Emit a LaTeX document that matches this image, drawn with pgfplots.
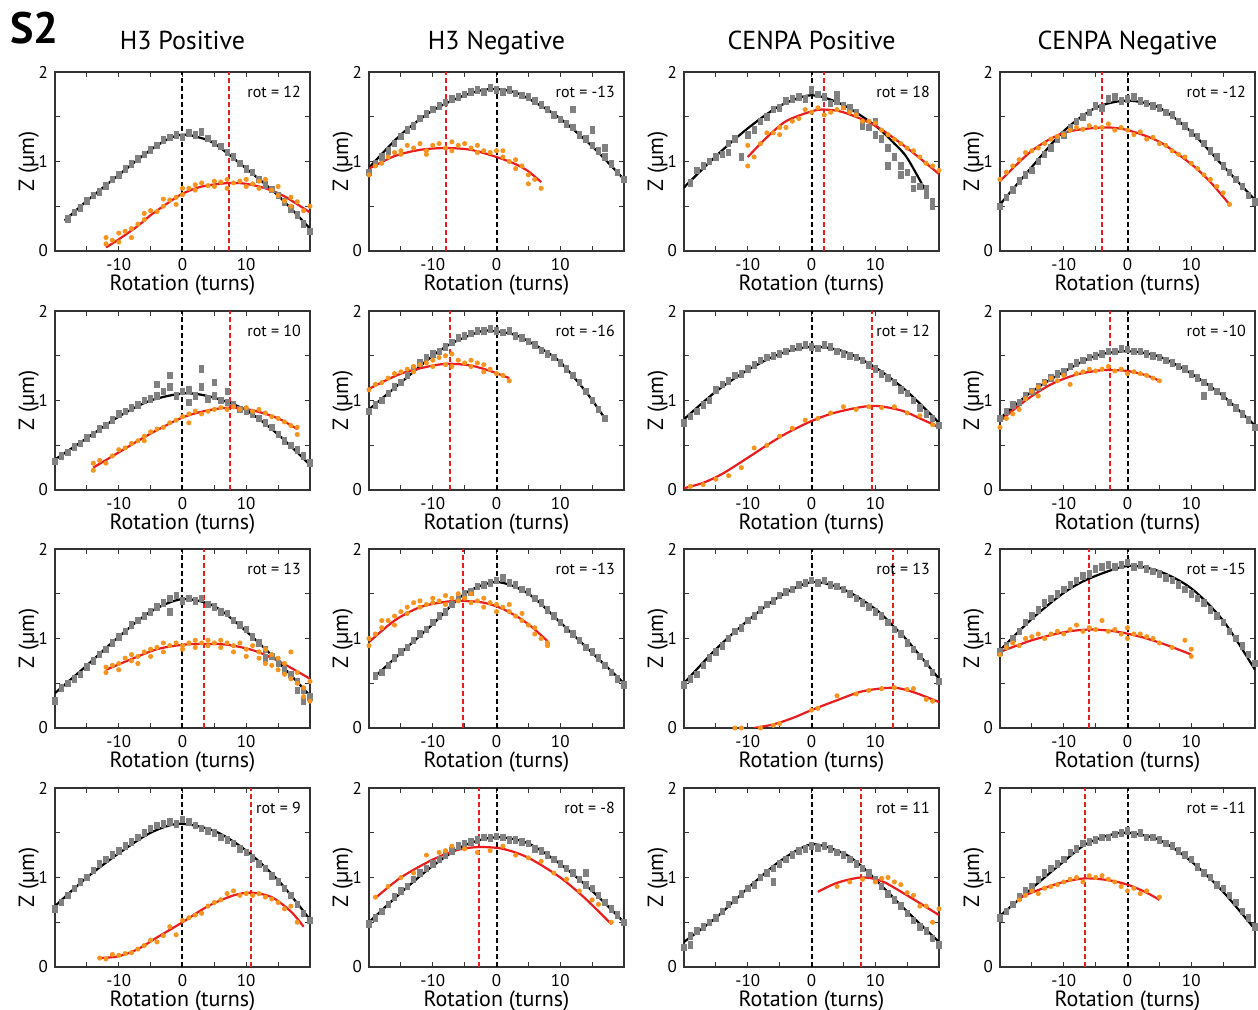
\documentclass[border=0pt]{standalone}
\usepackage{fontspec}
\setmainfont{PT Sans}
\usepackage{pgfplots}
\pgfplotsset{compat=1.18}
\definecolor{ptgray}{RGB}{128,128,128}
\definecolor{ptorange}{RGB}{247,148,29}
\definecolor{ptred}{RGB}{235,28,30}
\pgfplotsset{panel/.style={
  width=127.5pt, height=89.5pt, scale only axis,
  xmin=-20, xmax=20, ymin=0, ymax=2,
  xtick={-10,0,10}, minor xtick={-15,-5,5,15},
  ytick={0,1,2}, minor ytick={0.5,1.5},
  tick align=inside, major tick length=2.5pt, minor tick length=2.5pt,
  axis line style={line width=0.6pt, black!80},
  every tick/.style={black!80, line width=0.5pt},
  ticklabel style={font=\fontsize{8.5}{10}\selectfont},
  /pgf/number format/assume math mode=true,
  xlabel={Rotation (turns)}, ylabel={Z (µm)},
  label style={font=\fontsize{11}{13}\selectfont},
  xlabel style={yshift=4.5pt}, ylabel style={yshift=-7pt},
  title style={font=\fontsize{13}{15}\selectfont, text height=1.6ex, text depth=0.3ex, yshift=0pt},
}}
\newcommand{\panel}[9]{%
\begin{axis}[panel, at={(#1,#2)}, anchor=south west, #9]
\addplot[only marks, color=ptgray, mark=square*, mark size=1.1pt, mark options={yscale=1.5, ptgray}] coordinates {#5};
\addplot[only marks, color=ptorange, mark=*, mark size=1.05pt, mark options={ptorange}] coordinates {#7};
\addplot[black, no marks, line width=1pt, dash pattern=on 2.5pt off 1.5pt] coordinates {(0,0)(0,2)};
\addplot[ptred, no marks, line width=1pt, dash pattern=on 2.5pt off 1.5pt] coordinates {(#4,0)(#4,2)};
\addplot[black, line width=1.1pt, smooth, no marks] coordinates {#6};
\addplot[ptred, line width=1.1pt, smooth, no marks] coordinates {#8};
\node[anchor=east, font=\fontsize{8}{9}\selectfont, inner sep=0.5pt] at (rel axis cs:0.97,0.89) {rot = #3};
\end{axis}}
\begin{document}
\begin{tikzpicture}
\useasboundingbox (0,0) rectangle (629pt,505pt);
\node[anchor=north west, inner sep=0pt, font=\bfseries\fontsize{22}{24}\selectfont] at (5pt,499pt) {S2};
% Row 1
\panel{27.5pt}{379.5pt}{12}{7.3}
{(-18,0.36)(-17,0.43)(-16,0.48)(-15,0.56)(-14,0.62)(-13,0.66)(-12,0.73)(-11,0.8)(-10,0.85)(-9,0.92)(-8,0.97)(-7,1.03)(-6,1.08)(-5,1.13)(-4,1.18)(-3,1.24)(-2,1.27)(-1,1.3)(0,1.27)(1,1.32)(2,1.3)(3,1.33)(4,1.26)(5,1.2)(6,1.17)(7,1.1)(8,1.05)(9,0.98)(10,0.92)(11,0.88)(12,0.8)(13,0.74)(14,0.69)(15,0.62)(16,0.55)(17,0.47)(18,0.4)(19,0.3)(20,0.22)}
{(-18.5,0.34)(-15,0.56)(-10,0.85)(-5,1.13)(-2,1.26)(0,1.30)(2,1.28)(5,1.2)(10,0.92)(15,0.62)(20,0.25)}
{(-12,0.08)(-12,0.15)(-11,0.12)(-10,0.2)(-10,0.1)(-9,0.22)(-8,0.25)(-8,0.15)(-7,0.3)(-6,0.35)(-6,0.42)(-5,0.45)(-4,0.44)(-3,0.5)(-3,0.58)(-2,0.57)(-1,0.6)(-1,0.52)(0,0.7)(0,0.63)(1,0.7)(2,0.74)(2,0.68)(3,0.76)(4,0.73)(5,0.78)(5,0.72)(6,0.77)(7,0.8)(7,0.7)(8,0.76)(9,0.78)(10,0.72)(10,0.8)(11,0.75)(12,0.7)(12,0.78)(13,0.8)(14,0.68)(15,0.62)(15,0.72)(16,0.56)(17,0.6)(17,0.5)(18,0.55)(19,0.45)(20,0.5)}
{(-12,0.04)(-10,0.13)(-7,0.28)(-5,0.4)(-2,0.55)(0,0.64)(3,0.72)(7.3,0.76)(10,0.75)(13,0.7)(16,0.61)(20,0.43)}
{title={H3 Positive}}
\panel{184.5pt}{379.5pt}{-13}{-8}
{(-20,0.88)(-19,0.98)(-18,1.05)(-17,1.12)(-16,1.2)(-15,1.28)(-14,1.35)(-13,1.4)(-12,1.48)(-11,1.53)(-10,1.58)(-9,1.62)(-8,1.66)(-7,1.7)(-6,1.72)(-5,1.75)(-4,1.78)(-3,1.8)(-2,1.78)(-1,1.82)(0,1.8)(1,1.78)(2,1.8)(3,1.76)(4,1.74)(5,1.72)(6,1.68)(7,1.63)(8,1.58)(9,1.52)(10,1.47)(11,1.42)(12,1.38)(13,1.3)(14,1.25)(15,1.18)(16,1.12)(17,1.05)(18,0.97)(19,0.88)(20,0.8)(12,1.58)(15,1.35)(17,1.15)}
{(-20,0.93)(-15,1.3)(-10,1.57)(-5,1.74)(-1,1.81)(3,1.77)(7,1.62)(10,1.48)(15,1.17)(20,0.8)}
{(-20,0.85)(-19,0.95)(-18,0.98)(-17,1.05)(-16,1.1)(-15,1.12)(-14,1.18)(-13,1.15)(-12,1.2)(-11,1.12)(-10,1.18)(-9,1.2)(-8,1.15)(-7,1.22)(-6,1.18)(-5,1.2)(-4,1.15)(-3,1.18)(-2,1.12)(-1,1.1)(0,1.12)(1,1.05)(2,1.0)(3,1.02)(4,0.95)(5,0.85)(6,0.8)(7,0.7)(-15,1.08)(-11,1.08)(-7,1.12)(-3,1.1)(1,1.12)(3,0.92)(5,0.75)}
{(-20,0.92)(-16,1.06)(-12,1.13)(-8,1.15)(-4,1.13)(0,1.05)(3,0.97)(5,0.89)(7,0.77)}
{title={H3 Negative}}
\panel{342pt}{379.5pt}{18}{2}
{(-19,0.76)(-18,0.9)(-17,0.95)(-16,1.0)(-15,1.05)(-14,1.08)(-13,1.2)(-12,1.25)(-11,1.05)(-10,1.3)(-9,1.35)(-8,1.45)(-7,1.5)(-6,1.58)(-5,1.6)(-4,1.68)(-3,1.7)(-2,1.72)(-1,1.7)(0,1.8)(1,1.75)(2,1.72)(3,1.65)(4,1.68)(5,1.62)(6,1.6)(7,1.55)(8,1.4)(9,1.38)(10,1.3)(11,1.25)(12,1.15)(13,1.05)(14,0.95)(15,0.88)(16,0.8)(17,0.72)(18,0.62)(19,0.55)(-13,1.1)(4,1.75)(10,1.45)(12,0.95)(14,0.85)(16,0.7)(18,0.7)(19,0.5)}
{(-20,0.71)(-15,1.06)(-10,1.37)(-5,1.62)(0,1.74)(5,1.63)(10,1.4)(13,1.2)(15,1.04)(18,0.66)}
{(-10,0.95)(-10,1.18)(-9,1.05)(-8,1.2)(-7,1.32)(-6,1.32)(-5,1.38)(-5,1.3)(-4,1.38)(-3,1.45)(-2,1.48)(-1,1.58)(0,1.55)(1,1.6)(2,1.52)(3,1.55)(4,1.58)(5,1.6)(6,1.55)(7,1.52)(8,1.45)(9,1.45)(10,1.43)(11,1.35)(12,1.3)(13,1.25)(14,1.2)(15,1.15)(16,1.12)(17,1.05)(18,0.98)(19,0.95)(20,0.9)}
{(-10,1.05)(-7,1.27)(-4,1.45)(0,1.56)(2,1.58)(5,1.55)(10,1.4)(15,1.15)(20,0.86)}
{title={CENPA Positive}}
\panel{500pt}{379.5pt}{-12}{-4}
{(-20,0.5)(-19,0.6)(-18,0.68)(-17,0.78)(-16,0.85)(-15,0.9)(-14,1.0)(-13,1.08)(-12,1.15)(-11,1.25)(-10,1.3)(-9,1.38)(-8,1.45)(-7,1.5)(-6,1.55)(-5,1.62)(-4,1.6)(-3,1.7)(-2,1.72)(-1,1.68)(0,1.7)(1,1.72)(2,1.68)(3,1.65)(4,1.62)(5,1.6)(6,1.55)(7,1.52)(8,1.45)(9,1.4)(10,1.32)(11,1.28)(12,1.2)(13,1.12)(14,1.05)(15,0.95)(16,0.88)(17,0.8)(18,0.72)(19,0.62)(20,0.55)}
{(-20,0.52)(-15,0.94)(-10,1.34)(-5,1.6)(0,1.68)(5,1.6)(10,1.33)(15,0.95)(20,0.57)}
{(-20,0.8)(-19,0.88)(-18,0.95)(-17,1.02)(-16,1.1)(-15,1.12)(-14,1.15)(-13,1.2)(-12,1.25)(-11,1.28)(-10,1.3)(-9,1.35)(-8,1.38)(-7,1.36)(-6,1.4)(-5,1.38)(-4,1.38)(-3,1.42)(-2,1.35)(-1,1.38)(0,1.35)(1,1.3)(2,1.33)(3,1.25)(4,1.27)(5,1.2)(6,1.18)(7,1.12)(8,1.08)(9,1.05)(10,0.98)(11,0.92)(12,0.85)(13,0.8)(14,0.72)(15,0.65)(16,0.52)}
{(-20,0.78)(-15,1.12)(-10,1.32)(-4,1.38)(0,1.35)(5,1.22)(10,0.97)(13,0.77)(16,0.52)}
{title={CENPA Negative}}
% Row 2
\panel{27.5pt}{260pt}{10}{7.5}
{(-20,0.32)(-19,0.38)(-18,0.42)(-17,0.48)(-16,0.52)(-15,0.58)(-14,0.62)(-13,0.68)(-12,0.72)(-11,0.78)(-10,0.85)(-9,0.88)(-8,0.92)(-7,0.95)(-6,1.0)(-5,1.02)(-4,1.05)(-3,1.1)(-2,1.15)(-1,1.05)(0,1.1)(1,1.12)(2,1.05)(3,1.15)(4,1.02)(5,1.05)(6,1.0)(7,0.98)(8,0.95)(9,0.9)(10,0.88)(11,0.85)(12,0.8)(13,0.75)(14,0.7)(15,0.62)(16,0.55)(17,0.5)(18,0.45)(19,0.38)(20,0.3)(-2,1.28)(3,1.35)(-4,1.18)(1,0.98)(5,1.2)(7,1.1)}
{(-20,0.34)(-15,0.58)(-10,0.82)(-5,1.0)(0.5,1.08)(5,1.03)(10,0.89)(15,0.62)(20,0.28)}
{(-14,0.3)(-14,0.22)(-13,0.33)(-12,0.3)(-11,0.38)(-10,0.45)(-9,0.47)(-8,0.52)(-7,0.55)(-6,0.55)(-6,0.6)(-5,0.65)(-4,0.68)(-3,0.7)(-2,0.75)(-1,0.78)(0,0.82)(1,0.85)(1,0.75)(2,0.88)(3,0.85)(4,0.88)(5,0.9)(6,0.92)(7,0.9)(8,0.93)(9,0.9)(10,0.92)(11,0.88)(12,0.9)(13,0.86)(14,0.82)(15,0.8)(16,0.76)(17,0.72)(18,0.7)(18,0.62)}
{(-14,0.25)(-10,0.42)(-5,0.63)(0,0.81)(4,0.89)(7.5,0.92)(11,0.89)(15,0.8)(18,0.68)}
{}
\panel{184.5pt}{260pt}{-16}{-7.3}
{(-20,0.88)(-19,0.95)(-18,1.0)(-17,1.08)(-16,1.15)(-15,1.2)(-14,1.28)(-13,1.35)(-12,1.42)(-11,1.48)(-10,1.52)(-9,1.55)(-8,1.6)(-7,1.65)(-6,1.7)(-5,1.72)(-4,1.75)(-3,1.78)(-2,1.78)(-1,1.8)(0,1.78)(1,1.76)(2,1.78)(3,1.72)(4,1.7)(5,1.66)(6,1.62)(7,1.56)(8,1.52)(9,1.48)(10,1.42)(11,1.35)(12,1.28)(13,1.2)(14,1.1)(15,1.0)(16,0.9)(17,0.8)}
{(-20,0.9)(-15,1.2)(-10,1.5)(-7,1.64)(-3,1.76)(-1,1.78)(3,1.73)(7,1.58)(10,1.43)(14,1.1)(17,0.8)}
{(-20,1.12)(-19,1.18)(-18,1.2)(-17,1.25)(-16,1.3)(-15,1.32)(-14,1.35)(-13,1.38)(-12,1.4)(-11,1.42)(-10,1.45)(-9,1.48)(-8,1.5)(-7,1.52)(-6,1.45)(-5,1.42)(-4,1.45)(-3,1.42)(-2,1.4)(-1,1.35)(0,1.3)(1,1.28)(2,1.22)(-13,1.32)(-10,1.38)(-8,1.4)(-7,1.38)(-4,1.38)(-2,1.32)}
{(-20,1.13)(-15,1.3)(-10,1.39)(-7.3,1.41)(-4,1.39)(-1,1.33)(2,1.25)}
{}
\panel{342pt}{260pt}{12}{9.5}
{(-20,0.75)(-19,0.82)(-18,0.88)(-17,0.95)(-16,1.0)(-15,1.12)(-14,1.18)(-13,1.22)(-12,1.28)(-11,1.3)(-10,1.35)(-9,1.4)(-8,1.45)(-7,1.48)(-6,1.5)(-5,1.52)(-4,1.55)(-3,1.58)(-2,1.6)(-1,1.62)(0,1.6)(1,1.58)(2,1.62)(3,1.6)(4,1.55)(5,1.52)(6,1.5)(7,1.48)(8,1.45)(9,1.4)(10,1.35)(11,1.3)(12,1.25)(13,1.2)(14,1.12)(15,1.08)(16,1.0)(17,0.92)(18,0.85)(19,0.8)(20,0.72)}
{(-20,0.79)(-15,1.1)(-10,1.34)(-5,1.52)(0,1.6)(5,1.55)(10,1.37)(15,1.1)(20,0.75)}
{(-19,0.04)(-17,0.06)(-15,0.12)(-13,0.16)(-11,0.25)(-9,0.47)(-7,0.5)(-5,0.6)(-3,0.69)(-1,0.78)(1,0.8)(3,0.86)(5,0.93)(7,0.9)(9,0.93)(11,0.92)(13,0.93)(15,0.86)(17,0.83)(19,0.73)}
{(-20,0.02)(-17,0.08)(-14,0.18)(-10,0.36)(-7,0.5)(-4,0.63)(0,0.77)(4,0.87)(9.5,0.94)(14,0.89)(17,0.8)(20,0.7)}
{}
\panel{500pt}{260pt}{-10}{-2.8}
{(-20,0.8)(-19,0.88)(-18,0.95)(-17,0.98)(-16,1.05)(-15,1.1)(-14,1.15)(-13,1.2)(-12,1.25)(-11,1.3)(-10,1.32)(-9,1.38)(-8,1.42)(-7,1.45)(-6,1.48)(-5,1.5)(-4,1.52)(-3,1.55)(-2,1.55)(-1,1.58)(0,1.57)(1,1.55)(2,1.55)(3,1.52)(4,1.5)(5,1.48)(6,1.45)(7,1.42)(8,1.38)(9,1.35)(10,1.3)(11,1.25)(12,1.2)(13,1.15)(14,1.1)(15,1.05)(16,0.98)(17,0.92)(18,0.85)(19,0.78)(20,0.7)(12,1.05)}
{(-20,0.8)(-15,1.1)(-10,1.32)(-5,1.5)(0,1.55)(5,1.49)(10,1.3)(15,1.05)(20,0.72)}
{(-20,0.7)(-19,0.8)(-18,0.85)(-17,0.9)(-16,1.02)(-15,1.1)(-14,1.05)(-14,1.15)(-13,1.2)(-12,1.25)(-11,1.22)(-10,1.28)(-9,1.18)(-8,1.3)(-7,1.32)(-6,1.35)(-5,1.33)(-4,1.35)(-3,1.38)(-2,1.33)(-1,1.35)(0,1.3)(1,1.32)(2,1.3)(3,1.28)(4,1.25)(5,1.22)}
{(-20,0.77)(-16,1.0)(-12,1.18)(-8,1.29)(-4,1.34)(-2.8,1.34)(0,1.33)(3,1.28)(5,1.22)}
{}
% Row 3
\panel{27.5pt}{141pt}{13}{3.4}
{(-20,0.3)(-19,0.45)(-18,0.5)(-17,0.55)(-16,0.6)(-15,0.68)(-14,0.75)(-13,0.82)(-12,0.88)(-11,0.95)(-10,1.02)(-9,1.08)(-8,1.15)(-7,1.2)(-6,1.25)(-5,1.3)(-4,1.35)(-3,1.4)(-2,1.45)(-1,1.48)(0,1.42)(1,1.45)(2,1.42)(3,1.45)(4,1.38)(5,1.35)(6,1.3)(7,1.28)(8,1.2)(9,1.15)(10,1.1)(11,1.02)(12,0.95)(13,0.88)(14,0.8)(15,0.72)(16,0.65)(17,0.6)(18,0.52)(19,0.42)(20,0.35)(-2,1.3)(13,0.78)(18,0.42)(19,0.3)}
{(-20,0.39)(-15,0.7)(-10,1.02)(-5,1.3)(0,1.44)(5,1.36)(10,1.08)(15,0.74)(20,0.36)}
{(-12,0.62)(-12,0.68)(-11,0.7)(-10,0.72)(-10,0.65)(-9,0.78)(-8,0.75)(-8,0.82)(-7,0.8)(-7,0.72)(-6,0.85)(-5,0.88)(-5,0.8)(-4,0.9)(-3,0.85)(-3,0.95)(-2,0.92)(-1,0.95)(0,0.92)(0,0.88)(1,0.95)(2,0.98)(2,0.9)(3,0.95)(4,0.92)(4,0.98)(5,0.95)(6,0.9)(6,0.98)(7,0.95)(8,0.92)(8,0.85)(9,0.95)(10,0.88)(10,0.8)(11,0.92)(12,0.85)(12,0.78)(13,0.88)(13,0.72)(14,0.82)(14,0.7)(15,0.78)(15,0.65)(16,0.72)(16,0.6)(17,0.85)(17,0.55)(18,0.5)(18,0.62)(19,0.45)(19,0.35)(20,0.52)(20,0.3)}
{(-12,0.65)(-8,0.77)(-4,0.88)(0,0.93)(3.4,0.94)(7,0.93)(11,0.87)(15,0.75)(20,0.55)}
{}
\panel{184.5pt}{141pt}{-13}{-5.3}
{(-19,0.58)(-18,0.62)(-17,0.7)(-16,0.78)(-15,0.85)(-14,0.9)(-13,0.98)(-12,1.05)(-11,1.1)(-10,1.18)(-9,1.25)(-8,1.3)(-7,1.38)(-6,1.45)(-5,1.5)(-4,1.52)(-3,1.58)(-2,1.6)(-1,1.62)(0,1.65)(1,1.68)(2,1.62)(3,1.6)(4,1.55)(5,1.52)(6,1.45)(7,1.4)(8,1.32)(9,1.25)(10,1.18)(11,1.1)(12,1.05)(13,0.98)(14,0.9)(15,0.85)(16,0.78)(17,0.7)(18,0.62)(19,0.55)(20,0.48)}
{(-19,0.58)(-15,0.84)(-10,1.16)(-5,1.5)(0,1.63)(5,1.5)(10,1.18)(15,0.84)(20,0.5)}
{(-20,0.92)(-20,1.0)(-19,1.05)(-18,1.12)(-18,1.2)(-17,1.2)(-16,1.25)(-16,1.15)(-15,1.3)(-14,1.35)(-14,1.28)(-13,1.4)(-12,1.42)(-12,1.35)(-11,1.38)(-10,1.45)(-10,1.4)(-9,1.42)(-8,1.48)(-8,1.38)(-7,1.45)(-6,1.5)(-6,1.42)(-5,1.45)(-4,1.4)(-4,1.5)(-3,1.42)(-2,1.45)(-2,1.35)(-1,1.4)(0,1.38)(0,1.3)(1,1.35)(2,1.3)(2,1.38)(3,1.25)(4,1.2)(4,1.28)(5,1.15)(6,1.05)(6,1.12)(7,1.0)(8,0.95)(8,0.92)}
{(-20,0.96)(-16,1.2)(-12,1.35)(-8,1.41)(-5.3,1.42)(-2,1.4)(1,1.33)(4,1.21)(6,1.1)(8,0.97)}
{}
\panel{342pt}{141pt}{13}{12.8}
{(-20,0.48)(-19,0.55)(-18,0.6)(-17,0.7)(-16,0.78)(-15,0.85)(-14,0.92)(-13,1.0)(-12,1.08)(-11,1.12)(-10,1.2)(-9,1.25)(-8,1.32)(-7,1.38)(-6,1.42)(-5,1.48)(-4,1.52)(-3,1.55)(-2,1.6)(-1,1.62)(0,1.65)(1,1.62)(2,1.65)(3,1.6)(4,1.58)(5,1.55)(6,1.5)(7,1.45)(8,1.4)(9,1.35)(10,1.3)(11,1.25)(12,1.18)(13,1.1)(14,1.05)(15,0.95)(16,0.88)(17,0.8)(18,0.72)(19,0.62)(20,0.52)}
{(-20,0.5)(-15,0.88)(-10,1.2)(-5,1.47)(0,1.63)(5,1.55)(10,1.33)(12.8,1.14)(15,0.98)(20,0.55)}
{(-12,0.0)(-11,0.0)(-8,0.0)(-6,0.03)(-5,0.05)(0,0.2)(1,0.22)(4,0.36)(7,0.38)(9,0.42)(11,0.44)(13,0.45)(15,0.43)(16,0.44)(18,0.32)(19,0.3)}
{(-9,0.0)(-6,0.04)(-3,0.11)(0,0.2)(4,0.31)(8,0.41)(12.8,0.45)(16,0.4)(20,0.29)}
{}
\panel{500pt}{141pt}{-15}{-6}
{(-20,0.85)(-19,0.92)(-18,1.0)(-17,1.08)(-16,1.18)(-15,1.25)(-14,1.32)(-13,1.4)(-12,1.45)(-11,1.5)(-10,1.55)(-9,1.6)(-8,1.65)(-7,1.7)(-6,1.72)(-5,1.78)(-4,1.8)(-3,1.82)(-2,1.8)(-1,1.82)(0,1.85)(1,1.8)(2,1.82)(3,1.78)(4,1.75)(5,1.72)(6,1.68)(7,1.65)(8,1.6)(9,1.55)(10,1.5)(11,1.45)(12,1.4)(13,1.32)(14,1.25)(15,1.18)(16,1.08)(17,1.0)(18,0.92)(19,0.82)(20,0.72)}
{(-20,0.87)(-15,1.22)(-10,1.51)(-6,1.67)(0,1.81)(5,1.75)(10,1.56)(15,1.2)(20,0.65)}
{(-20,0.82)(-19,0.9)(-18,0.95)(-17,0.92)(-16,1.0)(-15,1.02)(-14,1.05)(-13,1.0)(-12,1.05)(-11,1.08)(-10,1.05)(-9,1.1)(-8,1.15)(-7,1.08)(-6,1.12)(-5,1.1)(-4,1.2)(-3,1.08)(-2,1.1)(-1,1.05)(0,1.0)(0,1.12)(1,1.05)(2,1.05)(3,1.02)(4,1.0)(5,0.95)(7,0.9)(9,0.98)(10,0.88)(10,0.8)}
{(-20,0.85)(-15,0.98)(-10,1.07)(-6,1.1)(-2,1.08)(2,1.02)(6,0.93)(10,0.82)}
{}
% Row 4
\panel{27.5pt}{21.5pt}{9}{10.8}
{(-20,0.65)(-19,0.72)(-18,0.8)(-17,0.88)(-16,0.95)(-15,1.0)(-14,1.08)(-13,1.15)(-12,1.2)(-11,1.25)(-10,1.3)(-9,1.35)(-8,1.4)(-7,1.45)(-6,1.5)(-5,1.55)(-4,1.58)(-3,1.6)(-2,1.62)(-1,1.6)(0,1.65)(1,1.62)(2,1.58)(3,1.55)(4,1.52)(5,1.5)(6,1.45)(7,1.42)(8,1.38)(9,1.32)(10,1.28)(11,1.22)(12,1.15)(13,1.1)(14,1.02)(15,0.95)(16,0.88)(17,0.8)(18,0.7)(19,0.6)(20,0.52)}
{(-20,0.68)(-15,1.0)(-10,1.27)(-5,1.5)(-0.5,1.6)(5,1.52)(10,1.3)(15,0.97)(20,0.53)}
{(-13,0.1)(-12,0.09)(-11,0.14)(-10,0.13)(-9,0.15)(-8,0.16)(-7,0.2)(-6,0.24)(-5,0.3)(-4,0.28)(-3,0.35)(-2,0.45)(-1,0.36)(0,0.52)(1,0.55)(2,0.58)(3,0.6)(4,0.68)(5,0.72)(6,0.75)(7,0.82)(8,0.85)(9,0.8)(10,0.82)(11,0.8)(12,0.82)(13,0.78)(14,0.76)(15,0.72)(16,0.65)(17,0.68)(18,0.5)}
{(-13,0.1)(-10,0.12)(-7,0.2)(-4,0.33)(0,0.5)(4,0.68)(8,0.8)(10.8,0.83)(14,0.78)(17,0.62)(19,0.45)}
{}
\panel{184.5pt}{21.5pt}{-8}{-2.7}
{(-20,0.48)(-19,0.55)(-18,0.62)(-17,0.7)(-16,0.78)(-15,0.85)(-14,0.9)(-13,0.98)(-12,1.05)(-11,1.1)(-10,1.15)(-9,1.2)(-8,1.25)(-7,1.3)(-6,1.35)(-5,1.38)(-4,1.4)(-3,1.42)(-2,1.45)(-1,1.44)(0,1.46)(1,1.45)(2,1.42)(3,1.42)(4,1.4)(5,1.38)(6,1.32)(7,1.3)(8,1.25)(9,1.2)(10,1.15)(11,1.1)(12,1.05)(13,0.98)(14,0.92)(15,0.88)(16,0.8)(17,0.72)(18,0.65)(19,0.58)(20,0.5)(14,1.05)}
{(-20,0.5)(-15,0.83)(-10,1.13)(-5,1.36)(0,1.45)(5,1.38)(10,1.15)(15,0.85)(20,0.5)}
{(-19,0.78)(-17,0.9)(-15,1.0)(-13,1.05)(-11,1.25)(-9,1.28)(-8,1.3)(-7,1.35)(-5,1.32)(-3,1.28)(-1,1.3)(1,1.35)(3,1.25)(5,1.22)(7,1.18)(9,1.05)(11,0.98)(13,0.85)(15,0.75)(16,0.7)(18,0.5)}
{(-19,0.77)(-15,1.0)(-10,1.2)(-6,1.31)(-2.7,1.34)(1,1.32)(5,1.22)(10,1.0)(14,0.76)(18,0.48)}
{}
\panel{342pt}{21.5pt}{11}{7.8}
{(-20,0.22)(-19,0.35)(-18,0.4)(-17,0.45)(-16,0.5)(-15,0.55)(-14,0.62)(-13,0.7)(-12,0.75)(-11,0.82)(-10,0.88)(-9,0.92)(-8,1.0)(-7,1.05)(-6,1.1)(-5,1.15)(-4,1.2)(-3,1.25)(-2,1.3)(-1,1.32)(0,1.35)(1,1.33)(2,1.35)(3,1.32)(4,1.28)(5,1.25)(6,1.2)(7,1.15)(8,1.1)(9,1.05)(10,0.98)(11,0.9)(12,0.82)(13,0.75)(14,0.68)(15,0.6)(16,0.52)(17,0.45)(18,0.4)(19,0.32)(20,0.25)(-6,0.95)(-19,0.25)}
{(-20,0.28)(-15,0.55)(-10,0.88)(-5,1.18)(0,1.37)(5,1.27)(7.8,1.13)(10,0.98)(15,0.62)(20,0.28)}
{(4,0.9)(6,0.95)(8,0.98)(10,0.95)(11,0.99)(12,1.0)(13,0.95)(14,0.92)(15,0.83)(16,0.8)(17,0.68)(18,0.68)(19,0.5)(20,0.65)}
{(1,0.84)(4,0.94)(7.8,1.0)(11,0.96)(15,0.8)(20,0.58)}
{}
\panel{500pt}{21.5pt}{-11}{-6.6}
{(-20,0.55)(-19,0.62)(-18,0.7)(-17,0.78)(-16,0.85)(-15,0.9)(-14,0.98)(-13,1.05)(-12,1.1)(-11,1.15)(-10,1.2)(-9,1.28)(-8,1.32)(-7,1.38)(-6,1.4)(-5,1.42)(-4,1.45)(-3,1.45)(-2,1.48)(-1,1.5)(0,1.52)(1,1.48)(2,1.5)(3,1.45)(4,1.45)(5,1.42)(6,1.38)(7,1.35)(8,1.3)(9,1.25)(10,1.2)(11,1.12)(12,1.05)(13,1.0)(14,0.92)(15,0.88)(16,0.8)(17,0.72)(18,0.62)(19,0.55)(20,0.45)}
{(-20,0.57)(-15,0.88)(-10,1.18)(-6.6,1.37)(-3,1.47)(0,1.5)(5,1.42)(10,1.18)(15,0.84)(20,0.42)}
{(-17,0.75)(-16,0.8)(-15,0.85)(-14,0.82)(-13,0.88)(-12,0.9)(-11,0.92)(-10,0.95)(-9,0.98)(-8,1.0)(-7,0.95)(-6,1.02)(-5,1.0)(-4,1.02)(-3,0.98)(-2,0.95)(-1,0.9)(0,0.85)(1,0.88)(2,0.82)(3,0.85)(5,0.78)}
{(-17,0.77)(-14,0.86)(-10,0.95)(-6.6,0.99)(-3,0.97)(0,0.92)(3,0.83)(5,0.75)}
{}
\end{tikzpicture}
\end{document}
